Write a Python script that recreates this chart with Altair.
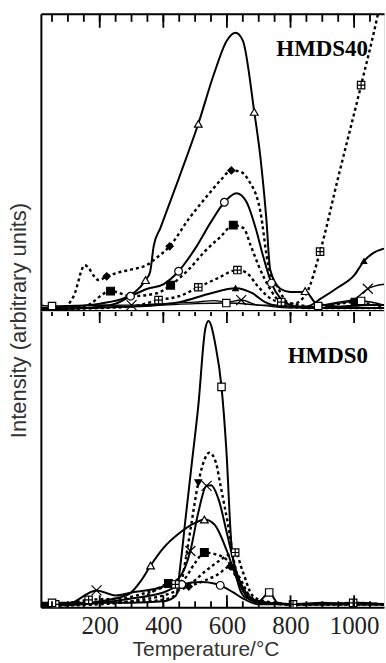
import altair as alt
import pandas as pd

# ---------------- data ----------------
X_DOMAIN = [15, 1094]
MAJOR_TICKS = [200, 400, 600, 800, 1000]
MINOR_TICKS = [50, 100, 150, 200, 250, 300, 350, 400, 450, 500, 550, 600,
               650, 700, 750, 800, 850, 900, 950, 1000, 1050]

# HMDS40 panel
top_tri_T = [15, 100, 200, 280, 344, 358, 370, 391, 450, 510, 560, 600, 627, 650, 686, 705, 724, 736, 768, 799, 834, 846, 880, 950, 1050, 1094]
top_tri_I = [1, 1.5, 2.5, 4.5, 10.4, 13, 22, 28, 45, 63, 80, 91, 93.6, 91, 67, 52, 31, 14, 7.5, 6.4, 6.4, 6.7, 2.7, 1.5, 2, 2]
top_tri_M = [344, 510, 686, 846]

top_dia_T = [15, 80, 118, 153, 197, 222, 260, 300, 347, 380, 420, 480, 540, 580, 614, 640, 668, 705, 730, 761, 790, 830, 900, 1000, 1094]
top_dia_I = [1, 1, 5, 15.4, 10.4, 11.7, 13, 14, 15.4, 18, 21.8, 31, 39, 44, 47.3, 47, 44, 33.6, 15.4, 7.7, 3, 2, 1, 1, 1]
top_dia_M = [222, 420, 614]

top_cir_T = [15, 150, 250, 297, 350, 400, 448, 500, 550, 592, 630, 660, 690, 715, 740, 770, 800, 850, 1000, 1094]
top_cir_I = [0.5, 1, 2.5, 5, 7.5, 9, 13.4, 21, 30, 36.6, 39.6, 37, 28, 18, 9.4, 4, 2, 1, 1, 1]
top_cir_M = [297, 448, 592, 740]

top_sqf_T = [15, 150, 234, 300, 380, 423, 480, 530, 580, 620, 652, 675, 699, 740, 780, 850, 1003, 1094]
top_sqf_I = [1, 1.5, 6.7, 5, 6, 8.7, 14, 20, 25, 28.9, 27.9, 22, 15.4, 6.7, 2, 1, 3, 1]
top_sqf_M = [234, 423, 620, 1003]

top_sqx_T = [15, 200, 300, 385, 450, 510, 570, 633, 660, 700, 740, 771, 810, 850, 893, 950, 1022, 1075, 1094]
top_sqx_I = [0.5, 1, 1.5, 3.7, 5, 8, 11, 13.8, 13, 8, 4, 3, 2.5, 6, 20, 45, 76, 100, 110]
top_sqx_M = [385, 510, 633, 771, 893, 1022]

top_trf_T = [15, 150, 300, 450, 550, 627, 680, 720, 780, 850, 900, 950, 1000, 1031, 1060, 1094]
top_trf_I = [0.5, 1, 1.5, 3, 6, 7.7, 6, 3, 1.5, 1.5, 4.5, 8, 12, 16.8, 19.5, 21]
top_trf_M = [627, 1031]

top_x_T = [15, 100, 200, 300, 400, 500, 560, 600, 645, 700, 760, 800, 850, 900, 950, 1000, 1043, 1094]
top_x_I = [1, 1.5, 2, 2, 2.5, 3, 3.5, 3, 3.7, 2, 2, 1.5, 1, 2, 3, 4, 7.5, 9]
top_x_M = [300, 645, 1043]

top_sqo_T = [15, 50, 200, 300, 400, 500, 598, 700, 800, 887, 1022, 1094]
top_sqo_I = [2, 1.7, 2, 1.5, 2, 2.5, 2.7, 2, 1, 1.7, 3.4, 2]
top_sqo_M = [50, 598, 887, 1022]

# HMDS0 panel
bot_sqo_T = [15, 50, 200, 300, 400, 440, 454, 470, 490, 510, 532, 542, 564, 583, 598, 614, 636, 657, 700, 733, 760, 800, 900, 1000, 1094]
bot_sqo_I = [1.5, 1.5, 1.5, 1.5, 2, 4, 14.5, 30, 49, 68, 94, 96.6, 88.5, 74.4, 53.5, 21.5, 7.7, 3.4, 2, 5, 1.5, 1, 1, 1.5, 1]
bot_sqo_M = [50, 583, 733]

bot_trd_T = [15, 200, 350, 420, 450, 470, 485, 510, 530, 545, 565, 580, 605, 625, 650, 680, 720, 800, 1094]
bot_trd_I = [1, 1.5, 2, 3, 6, 16, 26, 42, 50, 52.2, 49, 41, 27, 14, 6, 2.4, 1.5, 1, 1]
bot_trd_M = [510]

bot_x_T = [15, 100, 190, 250, 300, 400, 450, 485, 510, 536, 550, 575, 600, 630, 660, 700, 800, 900, 1000, 1094]
bot_x_I = [0.5, 1, 5.7, 4, 5, 7, 10, 19, 32, 41, 41.2, 36, 25, 12, 5, 2, 1, 1.5, 1, 1]
bot_x_M = [190, 485, 536]

bot_tri_T = [15, 100, 200, 291, 330, 360, 400, 450, 500, 529, 560, 600, 630, 660, 700, 800, 1094]
bot_tri_I = [1, 1, 2, 4.4, 9, 14.1, 20, 25, 28.5, 29.6, 28, 19, 10, 4, 1.5, 1, 1]
bot_tri_M = [360, 529]

bot_sqf_T = [15, 200, 300, 416, 460, 500, 529, 560, 600, 630, 670, 700, 800, 1094]
bot_sqf_I = [1, 1.5, 2, 8, 9, 15, 18.5, 18, 16, 10, 4, 2, 1, 1]
bot_sqf_M = [416, 529]

bot_sqx_T = [15, 60, 165, 270, 350, 438, 480, 530, 580, 626, 650, 680, 720, 808, 900, 997, 1094]
bot_sqx_I = [1, 1, 2.5, 3, 5, 7.7, 8, 12, 16, 18.5, 12, 4, 2, 1, 1, 1.5, 1]
bot_sqx_M = [60, 165, 438, 626, 808, 997]

bot_dia_T = [15, 200, 300, 400, 480, 530, 570, 611, 640, 670, 700, 800, 1094]
bot_dia_I = [0.5, 1, 2, 4, 7, 9, 11, 13.8, 10, 4, 2, 1, 1]
bot_dia_M = [480, 611]

bot_cir_T = [15, 150, 300, 400, 458, 520, 560, 579, 620, 650, 700, 800, 1094]
bot_cir_I = [0.5, 1, 3, 5, 7.7, 8.5, 8, 7.4, 5, 3, 1, 1, 1]
bot_cir_M = [458, 579]

PANEL_LABELS = ["HMDS40", "HMDS0"]
Y_TITLE = "Intensity (arbitrary units)"
X_TITLE = "Temperature/°C"

# (panel, name, T, I, markers, line style, marker kind)
SERIES = [
    ("top", "tri", top_tri_T, top_tri_I, top_tri_M, "solid", "tri_open"),
    ("top", "dia", top_dia_T, top_dia_I, top_dia_M, "dash", "dia_fill"),
    ("top", "cir", top_cir_T, top_cir_I, top_cir_M, "solid", "cir_open"),
    ("top", "sqf", top_sqf_T, top_sqf_I, top_sqf_M, "dash", "sq_fill"),
    ("top", "sqx", top_sqx_T, top_sqx_I, top_sqx_M, "dash", "sq_cross"),
    ("top", "trf", top_trf_T, top_trf_I, top_trf_M, "solid", "tri_fill"),
    ("top", "x", top_x_T, top_x_I, top_x_M, "thin", "x"),
    ("top", "sqo", top_sqo_T, top_sqo_I, top_sqo_M, "thin", "sq_open"),
    ("bot", "sqo", bot_sqo_T, bot_sqo_I, bot_sqo_M, "solid", "sq_open"),
    ("bot", "trd", bot_trd_T, bot_trd_I, bot_trd_M, "dash", "trd_fill"),
    ("bot", "x", bot_x_T, bot_x_I, bot_x_M, "solid", "x"),
    ("bot", "tri", bot_tri_T, bot_tri_I, bot_tri_M, "solid", "tri_open"),
    ("bot", "sqf", bot_sqf_T, bot_sqf_I, bot_sqf_M, "dash", "sq_fill"),
    ("bot", "sqx", bot_sqx_T, bot_sqx_I, bot_sqx_M, "dash", "sq_cross"),
    ("bot", "dia", bot_dia_T, bot_dia_I, bot_dia_M, "dash", "dia_fill"),
    ("bot", "cir", bot_cir_T, bot_cir_I, bot_cir_M, "solid", "cir_open"),
]

# ---------------- build tables ----------------
line_rows, mark_rows = [], []
for panel, name, Ts, Is, Ms, style, kind in SERIES:
    for t, v in zip(Ts, Is):
        line_rows.append({"panel": panel, "series": name, "style": style, "T": t, "I": v})
    lookup = dict(zip(Ts, Is))
    for t in Ms:
        mark_rows.append({"panel": panel, "series": name, "kind": kind, "T": t, "I": lookup[t]})
lines_df = pd.DataFrame(line_rows)
marks_df = pd.DataFrame(mark_rows)
minor_df = pd.DataFrame({"T": MINOR_TICKS})
major_df = pd.DataFrame({"T": MAJOR_TICKS})

SQ_CROSS = "M-1,-1H1V1H-1Z M0,-1V1 M-1,0H1"
X_PATH = "M-1,-1L1,1 M-1,1L1,-1"
MARKER_STYLE = {
    "tri_open": dict(shape="triangle-up", fill="white", size=60),
    "dia_fill": dict(shape="diamond", fill="black", size=50),
    "cir_open": dict(shape="circle", fill="white", size=60),
    "sq_fill": dict(shape="square", fill="black", size=60),
    "sq_cross": dict(shape=SQ_CROSS, fill="white", size=55),
    "tri_fill": dict(shape="triangle-up", fill="black", size=30),
    "x": dict(shape=X_PATH, fill="black", size=100),
    "sq_open": dict(shape="square", fill="white", size=55),
    "trd_fill": dict(shape="triangle-down", fill="black", size=45),
}
LINE_STYLE = {
    "solid": dict(strokeWidth=2),
    "thin": dict(strokeWidth=1.4),
    "dash": dict(strokeWidth=2.4, strokeDash=[3, 3]),
}

W = 344
H_TOP, H_BOT = 298, 297
XS = alt.Scale(domain=X_DOMAIN, nice=False, zero=False)
YS = alt.Scale(domain=[0, 100], nice=False, zero=False)
SERIF = "Liberation Serif"
SANS = "Liberation Sans"

AXES = {
    "top": dict(
        x=alt.Axis(orient="top", domain=True, domainWidth=2, domainColor="black",
                   ticks=False, labels=False, grid=False, title=None),
        y=alt.Axis(orient="left", domain=True, domainWidth=2, domainColor="black",
                   ticks=False, labels=False, grid=False, title=Y_TITLE,
                   titleFont=SANS, titleFontSize=22, titleFontWeight="normal",
                   titleColor="#333", titleAngle=270, titleX=-15, titleY=307,
                   titleAlign="center", titleBaseline="alphabetic"),
    ),
    "bot": dict(
        x=alt.Axis(orient="bottom", values=MAJOR_TICKS, format="d", ticks=False, domain=True,
                   domainWidth=2, domainColor="black", grid=False,
                   labels=True, labelFont=SERIF, labelFontSize=25, labelColor="#222",
                   labelPadding=6, labelOverlap=False,
                   title=X_TITLE, titleFont=SANS, titleFontSize=21,
                   titleFontWeight="normal", titleColor="#333",
                   titleX=165, titleY=48, titleAlign="center",
                   titleBaseline="alphabetic"),
        y=alt.Axis(orient="left", domain=True, domainWidth=2, domainColor="black",
                   ticks=False, labels=False, grid=False, title=None),
    ),
}


def panel(pname, label, h, label_y, tick_spans):
    ax = AXES[pname]
    X = lambda: alt.X("T:Q", scale=XS, axis=ax["x"])
    Y = lambda: alt.Y("I:Q", scale=YS, axis=ax["y"])
    layers = []
    for style, st in LINE_STYLE.items():
        layers.append(
            alt.Chart(lines_df).transform_filter(
                (alt.datum.panel == pname) & (alt.datum.style == style)
            ).mark_line(interpolate="monotone", clip=True, color="black", **st).encode(
                x=X(), y=Y(), detail="series:N", order="T:Q"
            )
        )
    for kind, ms in MARKER_STYLE.items():
        layers.append(
            alt.Chart(marks_df).transform_filter(
                (alt.datum.panel == pname) & (alt.datum.kind == kind)
            ).mark_point(filled=True, opacity=1, stroke="black", strokeWidth=1.2,
                         clip=True, **ms).encode(x=X(), y=Y())
        )
    layers.append(
        alt.Chart(pd.DataFrame({"label": [label]})).mark_text(
            align="right", baseline="alphabetic", font=SERIF, fontWeight="bold",
            fontSize=23, color="black"
        ).encode(text="label:N", x=alt.value(328), y=alt.value(label_y))
    )
    for df, y0, y1 in tick_spans:
        layers.append(
            alt.Chart(df).mark_rule(color="black", strokeWidth=1.8).encode(
                x=X(), y=alt.value(y0), y2=alt.value(y1))
        )
    if pname == "top":
        layers.append(
            alt.Chart(pd.DataFrame({"k": [0]})).mark_rule(color="black", strokeWidth=2).encode(
                x=alt.value(0), x2=alt.value(W), y=alt.value(h))
        )
    return alt.layer(*layers).properties(width=W, height=h)


top = panel("top", PANEL_LABELS[0], H_TOP, 42, [
    (minor_df, 0, 8), (major_df, 0, 14),
    (minor_df, H_TOP, H_TOP + 5), (major_df, H_TOP, H_TOP + 12),
])
bottom = panel("bot", PANEL_LABELS[1], H_BOT, 52, [
    (minor_df, H_BOT - 6, H_BOT), (major_df, H_BOT - 12, H_BOT),
])

chart = alt.vconcat(top, bottom, spacing=0, bounds="flush").properties(
    padding={"left": 7, "top": 11, "right": 0, "bottom": 0}
).configure_view(stroke=None).configure(background="white")

chart.save("out.html", embed_options={"renderer": "svg", "actions": False})
